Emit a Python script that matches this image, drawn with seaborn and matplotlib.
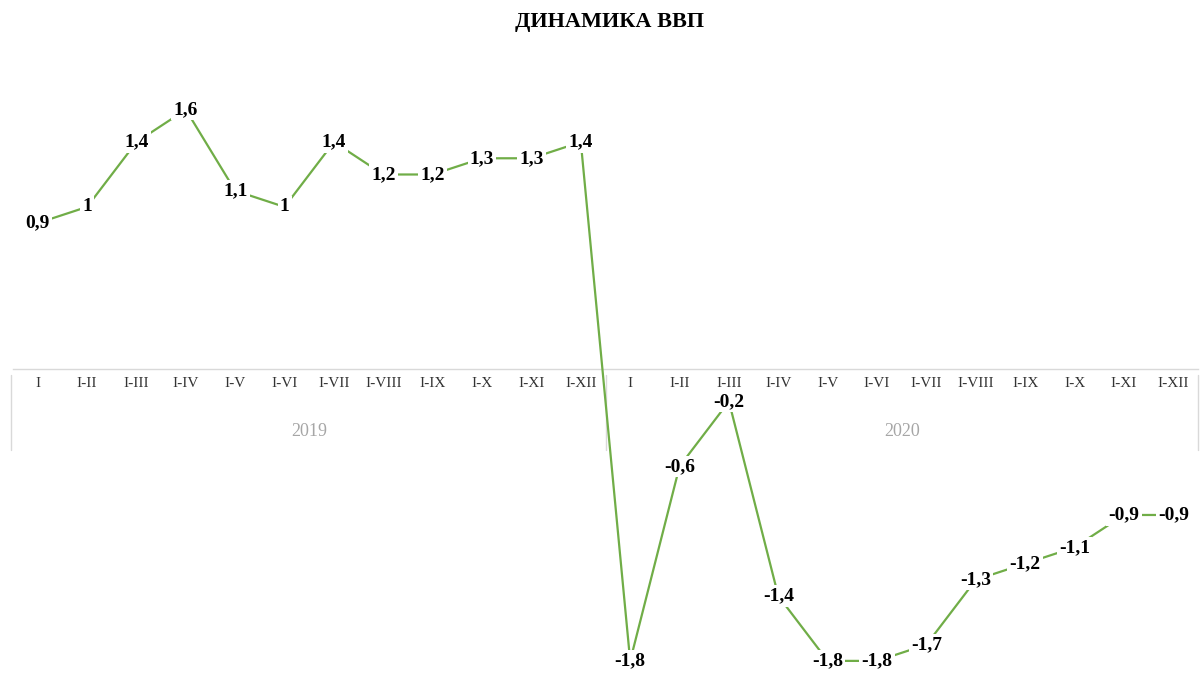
import numpy as np
import pandas as pd
import matplotlib
matplotlib.use("Agg")
import matplotlib.pyplot as plt
import matplotlib.transforms as mtransforms
import seaborn as sns

# ---- data ----
months = ['I', 'I-II', 'I-III', 'I-IV', 'I-V', 'I-VI', 'I-VII', 'I-VIII',
          'I-IX', 'I-X', 'I-XI', 'I-XII']
years = ['2019', '2020']
values_2019 = [0.9, 1, 1.4, 1.6, 1.1, 1, 1.4, 1.2, 1.2, 1.3, 1.3, 1.4]
values_2020 = [-1.8, -0.6, -0.2, -1.4, -1.8, -1.8, -1.7, -1.3, -1.2, -1.1, -0.9, -0.9]
title = 'ДИНАМИКА ВВП'

sns.set_theme(style='white')
plt.rcParams['font.family'] = ['Liberation Serif', 'DejaVu Serif']

labels = months + months
values = values_2019 + values_2020
df = pd.DataFrame({'pos': np.arange(len(values)), 'value': values,
                   'label': labels,
                   'year': [years[0]] * len(months) + [years[1]] * len(months)})

W, H = 1202, 675
fig = plt.figure(figsize=(W / 100, H / 100), dpi=100)
ax = fig.add_axes([13 / W, 6 / H, (1198 - 13) / W, 608 / H])

green = '#70AD47'
sns.lineplot(data=df, x='pos', y='value', ax=ax, color=green, linewidth=1.6,
             zorder=3, estimator=None, sort=False)

n = len(values)
ax.set_xlim(-0.5, n - 0.5)
ax.set_ylim(-1.85, 1.9)

for s in ['top', 'right', 'left']:
    ax.spines[s].set_visible(False)
ax.spines['bottom'].set_position(('data', 0))
ax.spines['bottom'].set_color('#D9D9D9')
ax.spines['bottom'].set_linewidth(1.0)
ax.spines['bottom'].set_zorder(1)
ax.set_yticks([])
ax.set_xlabel('')
ax.set_ylabel('')

ax.set_xticks(df['pos'])
ax.set_xticklabels(df['label'], fontsize=11, color='#333333')
ax.tick_params(axis='x', which='major', length=0, pad=6)
ax.set_xticks(np.arange(-0.5, n, 1), minor=True)
ax.tick_params(axis='x', which='minor', direction='in', length=4,
               color='#D9D9D9', width=1.0)

# year group labels and separators
trans = mtransforms.blended_transform_factory(ax.transData, fig.transFigure)
for i, yr in enumerate(years):
    cx = i * len(months) + (len(months) - 1) / 2
    ax.text(cx, 1 - 432 / H, yr, transform=trans, ha='center', va='center',
            fontsize=13, color='#A6A6A6')
for bx in [-0.55, len(months) - 0.5, n - 0.5]:
    ax.plot([bx, bx], [1 - 375 / H, 1 - 450 / H], transform=trans,
            color='#D9D9D9', linewidth=1.0, clip_on=False, zorder=1)

# data labels
for x, v in zip(df['pos'], df['value']):
    txt = f"{v:g}".replace('.', ',')
    ax.text(x, v, txt, ha='center', va='center', fontsize=14,
            fontweight='bold', color='black', zorder=5,
            bbox=dict(facecolor='white', edgecolor='none', pad=1.5))

fig.text(610 / W, 1 - 22 / H, title, ha='center', va='center',
         fontsize=16, fontweight='bold', color='black')

fig.savefig('out.png', dpi=100, facecolor='white')
